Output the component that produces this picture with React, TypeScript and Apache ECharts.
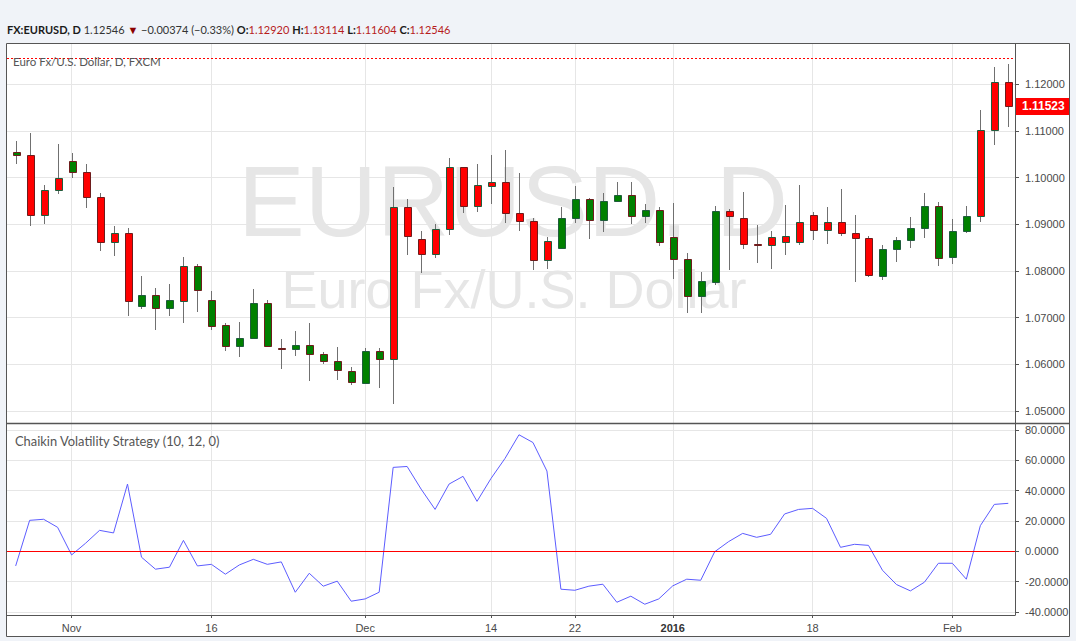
import React, { useEffect, useRef } from 'react';
import * as echarts from 'echarts';

// ---- data -------------------------------------------------------------
const dates = [
  '2015-10-27', '2015-10-28', '2015-10-29', '2015-10-30',
  '2015-11-02', '2015-11-03', '2015-11-04', '2015-11-05', '2015-11-06',
  '2015-11-09', '2015-11-10', '2015-11-11', '2015-11-12', '2015-11-13',
  '2015-11-16', '2015-11-17', '2015-11-18', '2015-11-19', '2015-11-20',
  '2015-11-23', '2015-11-24', '2015-11-25', '2015-11-26', '2015-11-27',
  '2015-11-30', '2015-12-01', '2015-12-02', '2015-12-03', '2015-12-04',
  '2015-12-07', '2015-12-08', '2015-12-09', '2015-12-10', '2015-12-11',
  '2015-12-14', '2015-12-15', '2015-12-16', '2015-12-17', '2015-12-18',
  '2015-12-21', '2015-12-22', '2015-12-23', '2015-12-24', '2015-12-28',
  '2015-12-29', '2015-12-30', '2015-12-31', '2016-01-04', '2016-01-05',
  '2016-01-06', '2016-01-07', '2016-01-08', '2016-01-11', '2016-01-12',
  '2016-01-13', '2016-01-14', '2016-01-15', '2016-01-18', '2016-01-19',
  '2016-01-20', '2016-01-21', '2016-01-22', '2016-01-25', '2016-01-26',
  '2016-01-27', '2016-01-28', '2016-01-29', '2016-02-01', '2016-02-02',
  '2016-02-03', '2016-02-04', '2016-02-05',
];

const opens = [
  1.10540, 1.10475, 1.09191, 1.09726, 1.10347, 1.10111, 1.09576, 1.08612, 1.08805, 1.07242,
  1.07484, 1.07212, 1.07362, 1.08098, 1.07370, 1.06835, 1.06385, 1.06557, 1.07313, 1.06355,
  1.06334, 1.06407, 1.06214, 1.06064, 1.05850, 1.05606, 1.06278, 1.06107, 1.09362, 1.08677,
  1.08355, 1.08891, 1.10218, 1.09383, 1.09812, 1.09897, 1.09233, 1.09062, 1.08227, 1.08484,
  1.09126, 1.09533, 1.09084, 1.09490, 1.09619, 1.09169, 1.09298, 1.08719, 1.08248, 1.07456,
  1.07769, 1.09276, 1.09126, 1.08570, 1.08548, 1.08612, 1.08612, 1.09191, 1.08869, 1.09041,
  1.08805, 1.08698, 1.07884, 1.08463, 1.08655, 1.08912, 1.09383, 1.08291, 1.08848, 1.09169,
  1.11011, 1.12039,
];
const highs = [
  1.10782, 1.10946, 1.09839, 1.10717, 1.10525, 1.10289, 1.09668, 1.08961, 1.08919, 1.07891,
  1.07627, 1.07713, 1.08298, 1.08148, 1.07570, 1.06884, 1.06906, 1.07612, 1.07377, 1.06542,
  1.06713, 1.06884, 1.06263, 1.06370, 1.05936, 1.06343, 1.06349, 1.09797, 1.09540, 1.08854,
  1.08998, 1.10411, 1.10225, 1.10289, 1.10482, 1.10589, 1.10096, 1.09126, 1.08719, 1.09362,
  1.09812, 1.09555, 1.09668, 1.09910, 1.09897, 1.09426, 1.09362, 1.09448, 1.08377, 1.07970,
  1.09383, 1.09319, 1.09690, 1.08976, 1.08848, 1.09411, 1.09839, 1.09255, 1.09368, 1.09754,
  1.09197, 1.08741, 1.08548, 1.08726, 1.09154, 1.09662, 1.09469, 1.09105, 1.09383, 1.11439,
  1.12360, 1.12424,
];
const lows = [
  1.10296, 1.08968, 1.09011, 1.09653, 1.09996, 1.09347, 1.08433, 1.08319, 1.07041, 1.07191,
  1.06741, 1.07041, 1.06891, 1.07126, 1.06741, 1.06291, 1.06163, 1.06550, 1.06377, 1.05906,
  1.06184, 1.05649, 1.06000, 1.05670, 1.05563, 1.05600, 1.05499, 1.05156, 1.08347, 1.07961,
  1.08283, 1.08775, 1.09246, 1.09268, 1.09439, 1.09032, 1.08861, 1.08026, 1.08047, 1.08463,
  1.09019, 1.08690, 1.08827, 1.09485, 1.08998, 1.09019, 1.08527, 1.07820, 1.07109, 1.07105,
  1.07704, 1.08026, 1.08475, 1.08176, 1.08047, 1.08347, 1.08548, 1.08668, 1.08582, 1.08754,
  1.07769, 1.07876, 1.07812, 1.08184, 1.08497, 1.08698, 1.08098, 1.08141, 1.08805, 1.09041,
  1.10690, 1.11088,
];
const closes = [
  1.10475, 1.09191, 1.09726, 1.09983, 1.10111, 1.09576, 1.08612, 1.08805, 1.07349, 1.07484,
  1.07212, 1.07370, 1.08098, 1.07597, 1.06827, 1.06385, 1.06563, 1.07313, 1.06398, 1.06334,
  1.06407, 1.06214, 1.06064, 1.05872, 1.05615, 1.06278, 1.06107, 1.09362, 1.08741, 1.08355,
  1.08891, 1.10218, 1.09383, 1.09833, 1.09897, 1.09233, 1.09062, 1.08227, 1.08634, 1.09126,
  1.09533, 1.09084, 1.09490, 1.09619, 1.09169, 1.09298, 1.08612, 1.08248, 1.07456, 1.07777,
  1.09276, 1.09169, 1.08570, 1.08555, 1.08732, 1.08741, 1.09041, 1.08869, 1.09041, 1.08805,
  1.08698, 1.07906, 1.08463, 1.08655, 1.08912, 1.09383, 1.08270, 1.08848, 1.09169, 1.11011,
  1.12039, 1.11523,
];

// Chaikin Volatility Strategy (10, 12, 0)
const chaikin = [
  -9.65, 20.4, 21.1, 15.8, -2.4, 5.3, 13.8, 12.1, 44.3, -3.9,
  -11.8, -10.5, 7.2, -9.65, -8.6, -15.1, -9.0, -5.3, -8.6, -7.0,
  -27.0, -14.5, -23.0, -19.7, -32.9, -31.4, -27.0, 55.3, 55.9, 41.0,
  27.6, 44.3, 49.4, 32.9, 48.0, 61.2, 76.8, 71.7, 52.9, -25.0,
  -25.7, -23.0, -21.7, -33.6, -29.6, -34.9, -31.4, -22.8, -18.4, -19.1,
  -0.3, 6.4, 11.8, 9.2, 11.2, 24.6, 27.6, 28.3, 21.7, 2.6,
  4.6, 3.9, -12.5, -21.9, -26.1, -20.4, -7.9, -7.9, -18.4, 16.9,
  30.9, 31.6,
];

const priceTicks = [1.05, 1.06, 1.07, 1.08, 1.09, 1.10, 1.11, 1.12];
const oscTicks = [-40, -20, 0, 20, 40, 60, 80];
const tickDates = ['2015-11-02', '2015-11-16', '2015-12-01', '2015-12-14', '2015-12-22', '2016-01-04', '2016-01-18', '2016-02-01'];
const tickLabels = ['Nov', '16', 'Dec', '14', '22', '2016', '18', 'Feb'];
const boldTickLabels = ['2016'];

const lastPrice = 1.11523;
const headerClose = 1.12546;
const headerSymbol = 'FX:EURUSD, D';
const headerLast = '1.12546';
const headerChange = '−0.00374 (−0.33%)';
const headerO = '1.12920';
const headerH = '1.13114';
const headerL = '1.11604';
const headerC = '1.12546';
const seriesTitle = 'Euro Fx/U.S. Dollar, D, FXCM';
const indicatorTitle = 'Chaikin Volatility Strategy (10, 12, 0)';
const watermark1 = 'EURUSD, D';
const watermark2 = 'Euro Fx/U.S. Dollar';

// ---- component --------------------------------------------------------
export default function App() {
  const ref = useRef<HTMLDivElement>(null);

  useEffect(() => {
    if (!ref.current) return;
    const chart = echarts.init(ref.current, undefined, { renderer: 'svg' });

    const tickIdx = tickDates.map((d) => dates.indexOf(d));
    const xMin = -0.62;
    const xMax = 71.48;
    const axisFont = '"Liberation Sans", Arial, sans-serif';
    const uiFont = 'Lato, "Open Sans", sans-serif';
    const gridLine = { show: true, lineStyle: { color: '#e6e6e6', width: 1 } };
    const axisColor = '#555555';
    const clear = 'rgba(0,0,0,0)';

    const candleData = dates.map((_, i) => [i, opens[i], closes[i], lows[i], highs[i], chaikin[i]]);

    const option: any = {
      animation: false,
      backgroundColor: '#ffffff',
      grid: [
        { left: 7, top: 44, width: 1008, height: 379, outerBoundsMode: 'none' },
        { left: 7, top: 424, width: 1008, height: 191, outerBoundsMode: 'none' },
      ],
      xAxis: [
        {
          type: 'value', gridIndex: 0, min: xMin, max: xMax,
          axisLine: { show: false, onZero: false },
          axisTick: { show: false, customValues: tickIdx },
          axisLabel: { show: false, customValues: tickIdx },
          splitLine: gridLine,
        },
        {
          type: 'value', gridIndex: 1, min: xMin, max: xMax,
          axisLine: { show: true, onZero: false, lineStyle: { color: axisColor, width: 1 } },
          axisTick: { show: true, length: 3, customValues: tickIdx, lineStyle: { color: axisColor } },
          axisLabel: {
            customValues: tickIdx,
            color: '#4a4a4a', fontSize: 11, fontFamily: axisFont, margin: 7,
            formatter: (v: number) => {
              const k = tickIdx.indexOf(Math.round(v));
              if (k < 0) return '';
              const t = tickLabels[k];
              return boldTickLabels.includes(t) ? `{b|${t}}` : t;
            },
            rich: { b: { fontWeight: 'bold', fontSize: 11, fontFamily: axisFont, color: '#333' } },
          },
          splitLine: gridLine,
        },
      ],
      yAxis: [
        {
          type: 'value', gridIndex: 0, position: 'right', min: 1.04743, max: 1.12859,
          axisLine: { show: true, onZero: false, lineStyle: { color: axisColor, width: 1 } },
          axisTick: { show: true, length: 4, customValues: priceTicks, lineStyle: { color: axisColor } },
          axisLabel: {
            customValues: priceTicks, color: '#4a4a4a', fontSize: 11, fontFamily: axisFont, margin: 10,
            formatter: (v: number) => v.toFixed(5),
          },
          splitLine: gridLine,
        },
        {
          type: 'value', gridIndex: 1, position: 'right', min: -42, max: 83.9,
          axisLine: { show: true, onZero: false, lineStyle: { color: axisColor, width: 1 } },
          axisTick: { show: true, length: 4, customValues: oscTicks, lineStyle: { color: axisColor } },
          axisLabel: {
            customValues: oscTicks, color: '#4a4a4a', fontSize: 11, fontFamily: axisFont, margin: 10,
            formatter: (v: number) => v.toFixed(4),
          },
          splitLine: gridLine,
        },
      ],
      series: [
        {
          type: 'custom',
          name: 'EURUSD',
          xAxisIndex: 0, yAxisIndex: 0,
          z: 3,
          clip: true,
          data: candleData,
          encode: { x: 0, y: [1, 2, 3, 4] },
          renderItem: (params: any, api: any) => {
            const i = api.value(0);
            const o = api.value(1);
            const c = api.value(2);
            const l = api.value(3);
            const h = api.value(4);
            const osc = api.value(5);
            const pO = api.coord([i, o]);
            const pC = api.coord([i, c]);
            const pH = api.coord([i, h]);
            const pL = api.coord([i, l]);
            const bw = api.size([1, 0])[0] * 0.57;
            const xi = Math.round(pH[0]);
            const xc = xi + 0.5;
            const half = Math.max(1, Math.round(bw / 2) - 1);
            const top = Math.round(Math.min(pO[1], pC[1])) + 0.5;
            let bot = Math.round(Math.max(pO[1], pC[1])) + 0.5;
            if (bot - top < 1) bot = top + 1;
            const up = c >= o;
            return {
              type: 'group',
              children: [
                {
                  type: 'line',
                  shape: { x1: xc, y1: Math.round(pH[1]), x2: xc, y2: Math.round(pL[1]) },
                  style: { stroke: '#707070', lineWidth: 1 },
                },
                {
                  type: 'rect',
                  shape: { x: xi - half + 0.5, y: top, width: half * 2 + 1, height: bot - top },
                  style: {
                    fill: osc > 0 ? '#ff0000' : '#008000',
                    stroke: up ? '#1f5c3c' : '#6e1c1c',
                    lineWidth: 1,
                  },
                },
              ],
            };
          },
        },
        {
          type: 'line',
          name: 'levels',
          xAxisIndex: 0, yAxisIndex: 0,
          data: closes.map((v, i) => [i, v]),
          showSymbol: false, symbol: 'none', silent: true,
          lineStyle: { color: clear, width: 0 },
          itemStyle: { color: clear },
          z: 4,
          markLine: {
            silent: true,
            precision: 5,
            symbol: ['none', 'none'],
            animation: false,
            data: [
              {
                yAxis: headerClose,
                lineStyle: { color: '#ff0000', type: [2, 2], width: 1 },
                label: { show: false },
              },
              {
                yAxis: lastPrice,
                lineStyle: { color: clear, width: 1 },
                label: {
                  show: true, position: 'end', distance: 1,
                  formatter: lastPrice.toFixed(5),
                  backgroundColor: '#ff0000', color: '#ffffff',
                  fontWeight: 'bold', fontSize: 12, fontFamily: axisFont,
                  padding: [3, 5, 2, 6],
                },
              },
            ],
          },
        },
        {
          type: 'line',
          name: 'Chaikin Volatility',
          xAxisIndex: 1, yAxisIndex: 1,
          data: chaikin.map((v, i) => [i, v]),
          showSymbol: false, symbol: 'none',
          lineStyle: { color: '#5c5cff', width: 1 },
          z: 3,
          markLine: {
            silent: true,
            precision: 4,
            symbol: ['none', 'none'],
            animation: false,
            label: { show: false },
            lineStyle: { color: '#ff0000', type: 'solid', width: 1 },
            data: [{ yAxis: 0 }],
          },
        },
      ],
      graphic: {
        elements: [
          // watermark
          {
            type: 'text', z: -1, silent: true,
            style: {
              text: watermark1, x: 513, y: 201, fill: '#e6e6e6',
              font: `100px ${axisFont}`, textAlign: 'center', textVerticalAlign: 'middle',
            },
          },
          {
            type: 'text', z: -1, silent: true,
            style: {
              text: watermark2, x: 514, y: 289, fill: '#e6e6e6',
              font: `54px ${axisFont}`, textAlign: 'center', textVerticalAlign: 'middle',
            },
          },
          // outer light bands
          { type: 'rect', z: 20, silent: true, shape: { x: 0, y: 0, width: 1076, height: 43 }, style: { fill: '#f0f3f8' } },
          { type: 'rect', z: 20, silent: true, shape: { x: 0, y: 0, width: 6, height: 641 }, style: { fill: '#f0f3f8' } },
          { type: 'rect', z: 20, silent: true, shape: { x: 1070, y: 0, width: 6, height: 641 }, style: { fill: '#f0f3f8' } },
          { type: 'rect', z: 20, silent: true, shape: { x: 0, y: 637, width: 1076, height: 4 }, style: { fill: '#f0f3f8' } },
          // clip lower part of the bottom axis label
          { type: 'rect', z: 20, silent: true, shape: { x: 1016, y: 616, width: 53, height: 20 }, style: { fill: '#ffffff' } },
          // frame and pane separator
          {
            type: 'rect', z: 21, silent: true,
            shape: { x: 6.5, y: 43.5, width: 1063, height: 593 },
            style: { fill: 'none', stroke: '#555555', lineWidth: 1 },
          },
          {
            type: 'line', z: 21, silent: true,
            shape: { x1: 7, y1: 423.5, x2: 1069, y2: 423.5 },
            style: { stroke: '#555555', lineWidth: 1.5 },
          },
          // header
          {
            type: 'text', z: 22, silent: true,
            style: {
              x: 7, y: 29.5, textVerticalAlign: 'middle',
              text: `{b|${headerSymbol}} {n|${headerLast}} {t|▼} {n|${headerChange}} {b|O:}{r|${headerO}} {b|H:}{r|${headerH}} {b|L:}{r|${headerL}} {b|C:}{r|${headerC}}`,
              font: `11px ${uiFont}`,
              fill: '#333333',
              rich: {
                b: { fontWeight: 'bold', fontSize: 11, fontFamily: uiFont, fill: '#1a1a1a' },
                n: { fontSize: 11, fontFamily: uiFont, fill: '#333333' },
                r: { fontSize: 11, fontFamily: uiFont, fill: '#b71c1c' },
                t: { fontSize: 11, fontFamily: uiFont, fill: '#8b0000' },
              },
            },
          },
          {
            type: 'text', z: 22, silent: true,
            style: {
              x: 13, y: 61, text: seriesTitle, textVerticalAlign: 'middle',
              font: `11.5px ${uiFont}`, fill: '#555555',
            },
          },
          {
            type: 'text', z: 22, silent: true,
            style: {
              x: 15, y: 440.5, text: indicatorTitle, textVerticalAlign: 'middle',
              font: `12.9px ${uiFont}`, fill: '#555555',
            },
          },
        ],
      },
    };

    chart.setOption(option);
    return () => chart.dispose();
  }, []);

  return (
    <div style={{ position: 'fixed', left: 0, top: 0, width: 1076, height: 641, background: '#f0f3f8' }}>
      <div ref={ref} style={{ width: 1076, height: 641 }} />
    </div>
  );
}
